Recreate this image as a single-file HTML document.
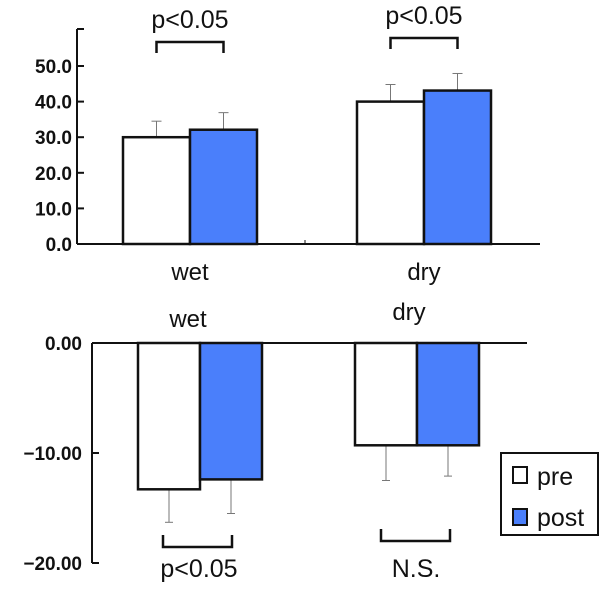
<!DOCTYPE html>
<html><head><meta charset="utf-8"><style>
body{margin:0;background:#fff;}
svg{display:block;font-family:"Liberation Sans",Arial,sans-serif;}
</style></head><body>
<svg id="c" width="600" height="589" viewBox="0 0 600 589"></svg>
<script>
const categories=["wet","dry"];
const topPre=[30.0,40.0];
const topPost=[32.1,43.1];
const topPreErr=[4.5,4.8];
const topPostErr=[4.8,4.8];
const topTicks=["0.0","10.0","20.0","30.0","40.0","50.0"];
const botPre=[-13.3,-9.3];
const botPost=[-12.4,-9.3];
const botPreErr=[3.0,3.2];
const botPostErr=[3.1,2.8];
const botTicks=["0.00","-10.00","-20.00"];
const botTickVals=[0,-10,-20];
const sigTop=["p<0.05","p<0.05"];
const sigBot=["p<0.05","N.S."];

const svg=document.getElementById('c');
const NS="http://www.w3.org/2000/svg";
function mk(t,a,txt){const e=document.createElementNS(NS,t);for(const k in a)e.setAttribute(k,a[k]);if(txt!==undefined)e.textContent=txt;svg.appendChild(e);return e;}
const blue="#4a7ffb";
// top axes
const yT=v=>244-v*3.56;
const preX=[123,357], bw=67;
let e;
e=mk('line',{x1:77,y1:29,x2:77,y2:244,stroke:'#111','stroke-width':2});

e=mk('line',{x1:77,y1:244,x2:540,y2:244,stroke:'#111','stroke-width':2});

mk('line',{x1:77,y1:29,x2:84,y2:29,stroke:'#111','stroke-width':2});
mk('line',{x1:305,y1:244,x2:305,y2:240,stroke:'#111','stroke-width':1});
topTicks.forEach((t,i)=>{const y=yT(i*10);
 e=mk('line',{x1:77,y1:y,x2:84,y2:y,stroke:'#111','stroke-width':2});
 
 e=mk('text',{x:72,y:y+7,'text-anchor':'end','font-size':19,'font-weight':'bold',fill:'#111'},t);
 
});
categories.forEach((c,i)=>{
 const x=preX[i];
 // error bars
 [[x+bw/2,topPre[i],topPreErr[i]],[x+bw*1.5,topPost[i],topPostErr[i]]].forEach(([cx,v,er])=>{
  e=mk('line',{x1:cx,y1:yT(v),x2:cx,y2:yT(v+er),stroke:'#777','stroke-width':1});
  
  mk('line',{x1:cx-5,y1:yT(v+er),x2:cx+5,y2:yT(v+er),stroke:'#777','stroke-width':1});
 });
 e=mk('rect',{x:x,y:yT(topPre[i]),width:bw,height:yT(0)-yT(topPre[i]),fill:'#fff',stroke:'#111','stroke-width':2.5});
 
 e=mk('rect',{x:x+bw,y:yT(topPost[i]),width:bw,height:yT(0)-yT(topPost[i]),fill:blue,stroke:'#111','stroke-width':2.5});
 
 e=mk('text',{x:x+bw,y:280,'text-anchor':'middle','font-size':24,fill:'#111'},c);
 
 const by=[42,38][i];
 e=mk('path',{d:`M${x+bw/2} ${by+11}V${by}H${x+bw*1.5}V${by+11}`,fill:'none',stroke:'#111','stroke-width':2.5});
 
 e=mk('text',{x:x+bw,y:[28,24][i],'text-anchor':'middle','font-size':25,fill:'#111'},sigTop[i]);
 
});
// bottom axes
const yB=v=>343-v*11;
const preXB=[138,355], bwb=[62,62];
e=mk('line',{x1:92,y1:343,x2:92,y2:563,stroke:'#111','stroke-width':2});

e=mk('line',{x1:92,y1:343,x2:527,y2:343,stroke:'#111','stroke-width':2});

botTicks.forEach((t,i)=>{const y=yB(botTickVals[i]);
 e=mk('line',{x1:92,y1:y,x2:99,y2:y,stroke:'#111','stroke-width':2});
 
 e=mk('text',{x:82,y:y+7,'text-anchor':'end','font-size':19,'font-weight':'bold',fill:'#111'},t.replace('-','\u2212'));
 
});
categories.forEach((c,i)=>{
 const x=preXB[i],w=bwb[i];
 [[x+w/2,botPre[i],botPreErr[i]],[x+w*1.5,botPost[i],botPostErr[i]]].forEach(([cx,v,er])=>{
  e=mk('line',{x1:cx,y1:yB(v),x2:cx,y2:yB(v-er),stroke:'#777','stroke-width':1});
  
  mk('line',{x1:cx-4,y1:yB(v-er),x2:cx+4,y2:yB(v-er),stroke:'#777','stroke-width':1});
 });
 e=mk('rect',{x:x,y:yB(0),width:w,height:yB(botPre[i])-yB(0),fill:'#fff',stroke:'#111','stroke-width':2.5});
 
 e=mk('rect',{x:x+w,y:yB(0),width:w,height:yB(botPost[i])-yB(0),fill:blue,stroke:'#111','stroke-width':2.5});
 
 e=mk('text',{x:x+w-12+i*4,y:[327,320][i],'text-anchor':'middle','font-size':24,fill:'#111'},c);
 
 const by=[547,541][i], bx=[163,381][i];
 e=mk('path',{d:`M${bx} ${by-12}V${by}H${bx+69}V${by-12}`,fill:'none',stroke:'#111','stroke-width':2.5});
 
 e=mk('text',{x:[199,416][i],y:577,'text-anchor':'middle','font-size':25,fill:'#111'},sigBot[i]);
 
});
// legend
e=mk('rect',{x:501,y:453,width:97,height:82,fill:'#fff',stroke:'#111','stroke-width':2});

e=mk('rect',{x:513,y:467,width:14,height:16,fill:'#fff',stroke:'#111','stroke-width':2});

e=mk('text',{x:537,y:485,'font-size':25,fill:'#111'},'pre');

e=mk('rect',{x:513,y:509,width:14,height:16,fill:blue,stroke:'#111','stroke-width':2});

e=mk('text',{x:537,y:526,'font-size':25,fill:'#111'},'post');

</script>
</body></html>
